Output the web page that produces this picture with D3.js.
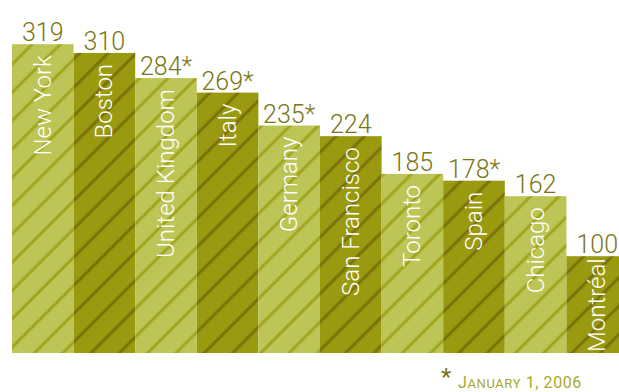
<!DOCTYPE html>
<html>
<head>
<meta charset="utf-8">
<script src="https://cdn.jsdelivr.net/npm/d3@7"></script>
<style>
  html, body { margin: 0; padding: 0; background: #ffffff; }
  svg { display: block; }
</style>
</head>
<body>
<script>
// Chart data
const places = ["New York", "Boston", "United Kingdom", "Italy", "Germany",
                "San Francisco", "Toronto", "Spain", "Chicago", "Montréal"];
const counts = [319, 310, 284, 269, 235, 224, 185, 178, 162, 100];
const marks  = ["", "", "*", "*", "*", "", "", "*", "", ""];
const footnoteMark = "*";
const footnoteMonth = "January";
const footnoteRest = " 1, 2006";

const width = 619, height = 392;
const baseY = 353;
const labelFont = "Roboto, 'Liberation Sans', sans-serif";

const svg = d3.select("body").append("svg")
  .attr("width", width)
  .attr("height", height);

const x = d3.scaleBand()
  .domain(places)
  .range([12, 628])
  .padding(0);

const y = d3.scaleLinear()
  .domain([0, 320])
  .range([baseY, baseY - 320 * 0.968]);

// Diagonal hatch patterns, one per bar shade
const defs = svg.append("defs");
const shades = [
  { id: "hatch-light", fill: "#bdc557", stroke: "#a0a51d" },
  { id: "hatch-dark",  fill: "#999a0f", stroke: "#7b710a" }
];
shades.forEach(s => {
  const p = defs.append("pattern")
    .attr("id", s.id)
    .attr("patternUnits", "userSpaceOnUse")
    .attr("width", 20)
    .attr("height", 20)
    .attr("patternTransform", "rotate(45) translate(4,0)");
  p.append("rect").attr("width", 20).attr("height", 20).attr("fill", s.fill);
  p.append("line")
    .attr("x1", 10).attr("x2", 10)
    .attr("y1", -2).attr("y2", 22)
    .attr("stroke", s.stroke)
    .attr("stroke-width", 3);
});

const data = places.map((p, i) => ({ place: p, value: counts[i], mark: marks[i], i }));

// Bars
svg.append("g")
  .selectAll("rect")
  .data(data)
  .join("rect")
  .attr("x", d => x(d.place))
  .attr("y", d => y(d.value))
  .attr("width", x.bandwidth())
  .attr("height", d => baseY - y(d.value))
  .attr("fill", d => d.i % 2 === 0 ? "url(#hatch-light)" : "url(#hatch-dark)");

// Value labels above each bar
svg.append("g")
  .selectAll("text")
  .data(data)
  .join("text")
  .attr("x", d => x(d.place) + x.bandwidth() / 2)
  .attr("y", d => y(d.value) - 3)
  .attr("text-anchor", "middle")
  .attr("font-family", labelFont)
  .attr("font-weight", 300)
  .attr("font-size", 25)
  .attr("fill", "#7b7614")
  .text(d => d.value + d.mark);

// Rotated place names inside the bars
const names = svg.append("g")
  .selectAll("text")
  .data(data)
  .join("text")
  .attr("text-anchor", "end")
  .attr("font-family", labelFont)
  .attr("font-weight", 300)
  .attr("font-size", 24)
  .attr("fill", "#ffffff")
  .text(d => d.place);

names.each(function(d) {
  const len = this.getComputedTextLength();
  const barH = baseY - y(d.value);
  const pad = Math.max(1, Math.min(11, barH - len - 1));
  const cx = x(d.place) + x.bandwidth() / 2 + 8;
  d3.select(this).attr("transform", `translate(${cx},${y(d.value) + pad}) rotate(-90)`);
});

// Footnote: marker, then the date in small capitals
svg.append("text")
  .attr("x", 441)
  .attr("y", 385)
  .attr("font-family", labelFont)
  .attr("font-size", 24)
  .attr("fill", "#7b7614")
  .text(footnoteMark);

const foot = svg.append("text")
  .attr("x", 458)
  .attr("y", 388)
  .attr("font-family", labelFont)
  .attr("letter-spacing", 0.6)
  .attr("fill", "#a7a92c");
foot.append("tspan")
  .attr("font-size", 16)
  .text(footnoteMonth.charAt(0).toUpperCase());
foot.append("tspan")
  .attr("font-size", 13)
  .text(footnoteMonth.slice(1).toUpperCase());
foot.append("tspan")
  .attr("font-size", 16)
  .text(footnoteRest);
</script>
</body>
</html>
